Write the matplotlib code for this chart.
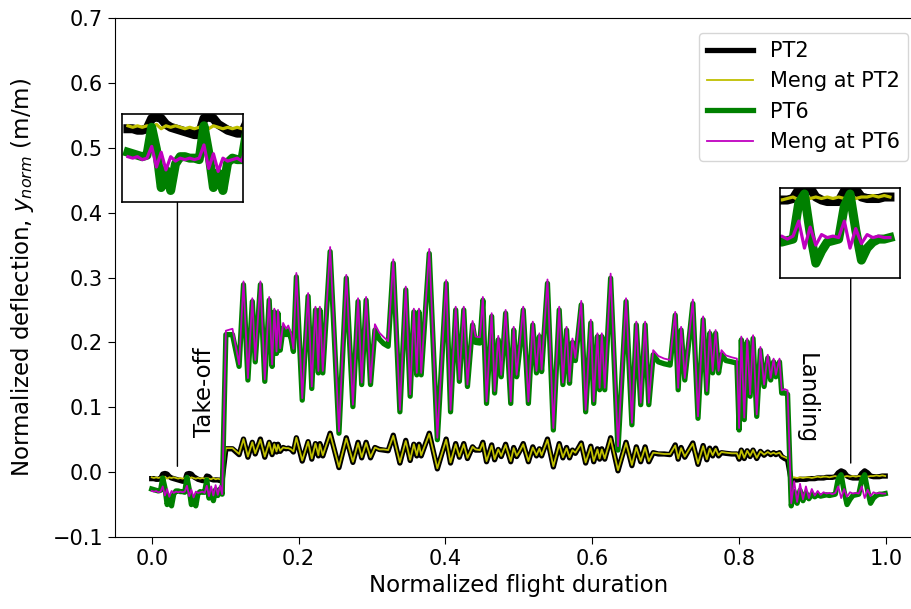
import numpy as np
import matplotlib.pyplot as plt

# ground phase before take-off
t_pre = [0.000, 0.003, 0.006, 0.009, 0.012, 0.015, 0.018, 0.021, 0.024, 0.027,
         0.030, 0.033, 0.036, 0.039, 0.042, 0.045, 0.048, 0.051, 0.054, 0.057,
         0.060, 0.063, 0.066, 0.069, 0.072, 0.075, 0.078, 0.081, 0.084, 0.087,
         0.090, 0.093, 0.096]
pt2_pre = [-0.010, -0.010, -0.011, -0.011, -0.010, -0.003, -0.002, -0.003, -0.007, -0.009,
           -0.010, -0.011, -0.012, -0.013, -0.014, -0.014, -0.003, -0.002, -0.003, -0.007,
           -0.009, -0.011, -0.012, -0.013, -0.013, -0.006, -0.007, -0.011, -0.012, -0.012,
           -0.012, -0.013, -0.012]
meng2_pre = [-0.008, -0.009, -0.008, -0.009, -0.008, -0.009, -0.007, -0.010, -0.008, -0.009,
             -0.008, -0.009, -0.010, -0.009, -0.010, -0.009, -0.008, -0.010, -0.008, -0.009,
             -0.010, -0.009, -0.010, -0.009, -0.010, -0.009, -0.010, -0.011, -0.009, -0.011,
             -0.010, -0.011, -0.010]
pt6_pre = [-0.026, -0.027, -0.028, -0.029, -0.028, -0.009, -0.024, -0.050, -0.038, -0.052,
           -0.034, -0.029, -0.029, -0.030, -0.030, -0.031, -0.008, -0.026, -0.050, -0.040,
           -0.052, -0.033, -0.030, -0.031, -0.031, -0.012, -0.040, -0.030, -0.044, -0.027,
           -0.036, -0.026, -0.034]
meng6_pre = [-0.029, -0.030, -0.029, -0.031, -0.030, -0.022, -0.036, -0.026, -0.038, -0.029,
             -0.032, -0.030, -0.031, -0.030, -0.031, -0.030, -0.021, -0.037, -0.027, -0.039,
             -0.030, -0.032, -0.031, -0.030, -0.032, -0.021, -0.037, -0.022, -0.036, -0.020,
             -0.035, -0.021, -0.034]

# flight phase
t_flight = [0.101, 0.110, 0.119, 0.125, 0.131, 0.137, 0.141, 0.148, 0.154, 0.160,
            0.164, 0.167, 0.170, 0.172, 0.175, 0.179, 0.183, 0.186, 0.190, 0.193,
            0.197, 0.205, 0.213, 0.218, 0.223, 0.227, 0.229, 0.233, 0.243, 0.255,
            0.265, 0.274, 0.281, 0.286, 0.292, 0.298, 0.304, 0.310, 0.316, 0.322,
            0.329, 0.338, 0.346, 0.352, 0.357, 0.361, 0.364, 0.367, 0.378, 0.389,
            0.401, 0.407, 0.414, 0.419, 0.425, 0.430, 0.437, 0.441, 0.447, 0.451,
            0.456, 0.463, 0.467, 0.472, 0.476, 0.482, 0.489, 0.493, 0.497, 0.501,
            0.506, 0.513, 0.519, 0.524, 0.528, 0.531, 0.539, 0.547, 0.555, 0.560,
            0.565, 0.569, 0.573, 0.577, 0.585, 0.591, 0.598, 0.602, 0.607, 0.610,
            0.613, 0.617, 0.625, 0.635, 0.646, 0.654, 0.660, 0.666, 0.672, 0.677,
            0.683, 0.690, 0.698, 0.706, 0.713, 0.717, 0.721, 0.726, 0.737, 0.744,
            0.751, 0.756, 0.760, 0.764, 0.768, 0.772, 0.776, 0.782, 0.790, 0.797,
            0.800, 0.803, 0.807, 0.811, 0.815, 0.819, 0.824, 0.829, 0.834, 0.839,
            0.843, 0.847, 0.850, 0.855, 0.858, 0.862, 0.866]
pt6_flight = [0.212, 0.212, 0.163, 0.289, 0.142, 0.263, 0.170, 0.289, 0.140, 0.265,
              0.163, 0.247, 0.183, 0.245, 0.188, 0.222, 0.212, 0.218, 0.205, 0.186,
              0.301, 0.111, 0.271, 0.129, 0.250, 0.153, 0.250, 0.153, 0.340, 0.060,
              0.299, 0.101, 0.263, 0.135, 0.265, 0.135, 0.219, 0.205, 0.198, 0.194,
              0.322, 0.093, 0.281, 0.117, 0.247, 0.150, 0.247, 0.150, 0.337, 0.050,
              0.291, 0.093, 0.250, 0.140, 0.250, 0.132, 0.227, 0.200, 0.199, 0.265,
              0.106, 0.240, 0.122, 0.204, 0.147, 0.245, 0.106, 0.219, 0.147, 0.188,
              0.250, 0.106, 0.227, 0.153, 0.209, 0.155, 0.291, 0.065, 0.250, 0.135,
              0.219, 0.137, 0.200, 0.172, 0.258, 0.093, 0.230, 0.106, 0.209, 0.127,
              0.209, 0.127, 0.299, 0.034, 0.263, 0.073, 0.227, 0.104, 0.227, 0.104,
              0.181, 0.170, 0.167, 0.165, 0.242, 0.127, 0.219, 0.142, 0.260, 0.083,
              0.235, 0.122, 0.214, 0.153, 0.214, 0.153, 0.181, 0.172, 0.170, 0.168,
              0.065, 0.204, 0.081, 0.201, 0.117, 0.206, 0.086, 0.188, 0.132, 0.176,
              0.142, 0.170, 0.147, 0.170, 0.122, 0.122, 0.120]
meng6_flight = [0.218, 0.221, 0.166, 0.294, 0.145, 0.268, 0.173, 0.294, 0.143, 0.270,
                0.166, 0.252, 0.186, 0.250, 0.191, 0.230, 0.221, 0.226, 0.213, 0.190,
                0.307, 0.114, 0.276, 0.132, 0.255, 0.156, 0.255, 0.156, 0.347, 0.063,
                0.304, 0.104, 0.268, 0.138, 0.270, 0.138, 0.228, 0.215, 0.208, 0.202,
                0.328, 0.096, 0.286, 0.120, 0.252, 0.153, 0.252, 0.153, 0.344, 0.053,
                0.296, 0.096, 0.255, 0.143, 0.255, 0.135, 0.233, 0.209, 0.208, 0.270,
                0.109, 0.245, 0.125, 0.210, 0.150, 0.250, 0.109, 0.224, 0.150, 0.195,
                0.255, 0.109, 0.232, 0.156, 0.214, 0.158, 0.297, 0.068, 0.255, 0.138,
                0.224, 0.140, 0.206, 0.176, 0.264, 0.096, 0.235, 0.109, 0.214, 0.130,
                0.214, 0.130, 0.306, 0.040, 0.268, 0.076, 0.232, 0.107, 0.232, 0.107,
                0.188, 0.179, 0.175, 0.173, 0.247, 0.130, 0.224, 0.145, 0.266, 0.086,
                0.240, 0.125, 0.219, 0.156, 0.219, 0.156, 0.188, 0.180, 0.177, 0.175,
                0.068, 0.209, 0.084, 0.206, 0.120, 0.211, 0.089, 0.193, 0.135, 0.181,
                0.145, 0.175, 0.150, 0.175, 0.126, 0.128, 0.126]
pt2_flight = [0.036, 0.036, 0.027, 0.051, 0.023, 0.046, 0.028, 0.051, 0.023, 0.046,
              0.027, 0.043, 0.031, 0.043, 0.032, 0.038, 0.036, 0.037, 0.035, 0.031,
              0.053, 0.017, 0.047, 0.020, 0.044, 0.025, 0.044, 0.025, 0.060, 0.007,
              0.053, 0.015, 0.046, 0.022, 0.046, 0.022, 0.038, 0.035, 0.034, 0.033,
              0.057, 0.014, 0.049, 0.018, 0.043, 0.025, 0.043, 0.025, 0.060, 0.005,
              0.051, 0.014, 0.044, 0.023, 0.044, 0.021, 0.039, 0.034, 0.034, 0.046,
              0.016, 0.042, 0.019, 0.035, 0.024, 0.043, 0.016, 0.038, 0.024, 0.032,
              0.044, 0.016, 0.039, 0.025, 0.036, 0.025, 0.051, 0.008, 0.044, 0.022,
              0.038, 0.022, 0.034, 0.029, 0.045, 0.014, 0.040, 0.016, 0.036, 0.020,
              0.036, 0.020, 0.053, 0.002, 0.046, 0.010, 0.039, 0.016, 0.039, 0.016,
              0.030, 0.028, 0.028, 0.027, 0.042, 0.020, 0.038, 0.023, 0.045, 0.012,
              0.041, 0.019, 0.037, 0.025, 0.037, 0.025, 0.030, 0.029, 0.028, 0.028,
              0.020, 0.034, 0.021, 0.033, 0.024, 0.034, 0.021, 0.032, 0.026, 0.031,
              0.027, 0.030, 0.027, 0.030, 0.024, 0.021, 0.019]
meng2_flight = [0.037, 0.037, 0.028, 0.051, 0.024, 0.046, 0.029, 0.050, 0.024, 0.046,
                0.028, 0.043, 0.032, 0.042, 0.033, 0.038, 0.037, 0.037, 0.035, 0.032,
                0.053, 0.018, 0.047, 0.021, 0.044, 0.026, 0.043, 0.026, 0.059, 0.008,
                0.052, 0.016, 0.045, 0.023, 0.045, 0.023, 0.038, 0.035, 0.035, 0.034,
                0.056, 0.015, 0.048, 0.019, 0.043, 0.026, 0.042, 0.026, 0.059, 0.006,
                0.050, 0.015, 0.043, 0.024, 0.043, 0.022, 0.039, 0.035, 0.034, 0.045,
                0.017, 0.041, 0.020, 0.035, 0.025, 0.042, 0.017, 0.037, 0.025, 0.032,
                0.043, 0.017, 0.038, 0.026, 0.036, 0.026, 0.050, 0.009, 0.043, 0.023,
                0.037, 0.023, 0.034, 0.030, 0.044, 0.015, 0.039, 0.017, 0.035, 0.021,
                0.035, 0.021, 0.052, 0.003, 0.045, 0.011, 0.038, 0.017, 0.038, 0.017,
                0.030, 0.029, 0.028, 0.028, 0.041, 0.021, 0.037, 0.024, 0.044, 0.013,
                0.040, 0.020, 0.036, 0.026, 0.036, 0.026, 0.031, 0.030, 0.029, 0.029,
                0.021, 0.034, 0.022, 0.033, 0.025, 0.034, 0.022, 0.032, 0.027, 0.031,
                0.028, 0.030, 0.028, 0.030, 0.025, 0.023, 0.021]

# ground phase after landing
t_post = [0.871, 0.875, 0.879, 0.883, 0.887, 0.891, 0.895, 0.899, 0.903, 0.907,
          0.911, 0.915, 0.919, 0.923, 0.927, 0.931, 0.935, 0.939, 0.943, 0.947,
          0.951, 0.955, 0.959, 0.963, 0.967, 0.971, 0.975, 0.979, 0.983, 0.987,
          0.991, 0.995, 0.999]
pt2_post = [-0.013, -0.012, -0.012, -0.011, -0.011, -0.011, -0.010, -0.010, -0.010, -0.009,
            -0.009, -0.009, -0.008, -0.008, -0.008, -0.007, -0.001, 0.002, 0.000, -0.006,
            -0.008, -0.009, -0.009, -0.009, -0.002, 0.002, -0.001, -0.006, -0.007, -0.007,
            -0.007, -0.006, -0.006]
meng2_post = [-0.009, -0.008, -0.009, -0.008, -0.009, -0.008, -0.008, -0.009, -0.008, -0.007,
              -0.008, -0.007, -0.007, -0.008, -0.007, -0.006, -0.008, -0.005, -0.007, -0.006,
              -0.007, -0.006, -0.007, -0.006, -0.007, -0.005, -0.007, -0.006, -0.006, -0.005,
              -0.006, -0.005, -0.006]
pt6_post = [-0.052, -0.030, -0.048, -0.028, -0.044, -0.032, -0.041, -0.034, -0.038, -0.035,
            -0.037, -0.036, -0.035, -0.036, -0.035, -0.034, -0.010, -0.004, -0.030, -0.050,
            -0.042, -0.036, -0.035, -0.034, -0.012, -0.004, -0.028, -0.048, -0.040, -0.036,
            -0.034, -0.034, -0.033]
meng6_post = [-0.048, -0.014, -0.046, -0.018, -0.042, -0.022, -0.040, -0.026, -0.036, -0.029,
              -0.035, -0.031, -0.033, -0.032, -0.034, -0.032, -0.022, -0.040, -0.026, -0.038,
              -0.031, -0.033, -0.032, -0.033, -0.022, -0.040, -0.027, -0.037, -0.031, -0.033,
              -0.032, -0.033, -0.033]

t = np.concatenate([t_pre, t_flight, t_post])
pt2 = np.concatenate([pt2_pre, pt2_flight, pt2_post])
meng2 = np.concatenate([meng2_pre, meng2_flight, meng2_post])
pt6 = np.concatenate([pt6_pre, pt6_flight, pt6_post])
meng6 = np.concatenate([meng6_pre, meng6_flight, meng6_post])

plt.rcParams['font.family'] = 'DejaVu Sans'
plt.rcParams['font.size'] = 15


def draw_lines(ax, thick=3.8, thin=1.3):
    ax.plot(t, pt2, color='k', linewidth=thick, label='PT2')
    ax.plot(t, meng2, color='y', linewidth=thin, label='Meng at PT2')
    ax.plot(t, pt6, color='green', linewidth=thick, label='PT6')
    ax.plot(t, meng6, color='m', linewidth=thin, label='Meng at PT6')


fig = plt.figure(figsize=(9.12, 6.09), dpi=100)
ax = fig.add_axes([0.1261, 0.1182, 0.8856, 0.8522])
draw_lines(ax)

ax.set_xlim(-0.05, 1.05)
ax.set_ylim(-0.1, 0.7)
ax.set_xticks([0.0, 0.2, 0.4, 0.6, 0.8, 1.0])
ax.set_yticks(np.arange(-0.1, 0.71, 0.1))
ax.tick_params(labelsize=15, length=5)
ax.set_xlabel('Normalized flight duration', fontsize=16.5)
ax.set_ylabel('Normalized deflection, $y_{norm}$ (m/m)', fontsize=16.5, labelpad=12)
ax.legend(loc='upper right', handlelength=2.2, borderaxespad=0.7, fontsize=15)

ax.text(0.072, 0.124, 'Take-off', rotation=90, ha='center', va='center', fontsize=16.5)
ax.text(0.891, 0.114, 'Landing', rotation=270, ha='center', va='center', fontsize=16.5)

# zoomed views of the ground phases
ins_l = ax.inset_axes([-0.041, 0.416, 0.166, 0.136], transform=ax.transData)
draw_lines(ins_l, thick=6.5, thin=2.3)
ins_l.set_xlim(-0.004, 0.073)
ins_l.set_ylim(-0.06, 0.0)

ins_r = ax.inset_axes([0.856, 0.299, 0.163, 0.139], transform=ax.transData)
draw_lines(ins_r, thick=6.5, thin=2.3)
ins_r.set_xlim(0.922, 1.006)
ins_r.set_ylim(-0.06, 0.0)

for ins in (ins_l, ins_r):
    ins.set_xticks([])
    ins.set_yticks([])
    for s in ins.spines.values():
        s.set_linewidth(1.2)

ax.annotate('', xy=(0.035, 0.009), xytext=(0.035, 0.416),
            arrowprops=dict(arrowstyle='-', color='k', lw=1.0, shrinkA=0, shrinkB=0))
ax.annotate('', xy=(0.952, 0.014), xytext=(0.952, 0.299),
            arrowprops=dict(arrowstyle='-', color='k', lw=1.0, shrinkA=0, shrinkB=0))

fig.savefig('out.png', dpi=100)
